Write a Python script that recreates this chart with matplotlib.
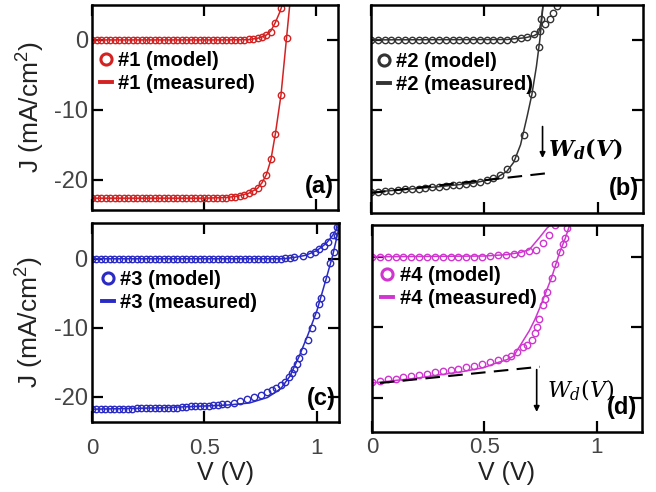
import matplotlib
matplotlib.use("Agg")
import matplotlib.pyplot as plt
from matplotlib.lines import Line2D

plt.rcParams["font.family"] = ["Liberation Sans", "DejaVu Sans"]
plt.rcParams["mathtext.fontset"] = "custom"
plt.rcParams["mathtext.rm"] = "Liberation Sans"
plt.rcParams["mathtext.bf"] = "Liberation Sans:bold"

# --- DATA ---
# panel (a), red
a_dark_model_v = [0.00, 0.02, 0.04, 0.06, 0.08, 0.10, 0.12, 0.14, 0.16, 0.18,
                  0.20, 0.22, 0.24, 0.26, 0.28, 0.30, 0.32, 0.34, 0.36, 0.38,
                  0.40, 0.42, 0.44, 0.46, 0.48, 0.50, 0.52, 0.54, 0.56, 0.58,
                  0.60, 0.62, 0.64, 0.66, 0.68, 0.70, 0.72, 0.74, 0.76, 0.78,
                  0.80, 0.82, 0.845]
a_dark_model_j = [0.0, 0.0, 0.0, 0.0, 0.0, 0.0, 0.0, 0.0, 0.0, 0.0,
                  0.0, 0.0, 0.0, 0.0, 0.0, 0.0, 0.0, 0.0, 0.0, 0.0,
                  0.0, 0.0, 0.0, 0.0, 0.0, 0.0, 0.0, 0.0, 0.0, 0.0,
                  0.0, 0.0, 0.0, 0.0, 0.05, 0.1, 0.15, 0.25, 0.4, 0.7,
                  1.2, 2.4, 4.5]
a_light_model_v = [0.00, 0.02, 0.04, 0.06, 0.08, 0.10, 0.12, 0.14, 0.16, 0.18,
                   0.20, 0.22, 0.24, 0.26, 0.28, 0.30, 0.32, 0.34, 0.36, 0.38,
                   0.40, 0.42, 0.44, 0.46, 0.48, 0.50, 0.52, 0.54, 0.56, 0.58,
                   0.60, 0.62, 0.64, 0.66, 0.68, 0.70, 0.72, 0.74, 0.76, 0.78,
                   0.80, 0.82, 0.845, 0.87]
a_light_model_j = [-22.6, -22.6, -22.6, -22.6, -22.6, -22.6, -22.6, -22.6, -22.6, -22.6,
                   -22.6, -22.6, -22.6, -22.6, -22.6, -22.6, -22.6, -22.6, -22.6, -22.6,
                   -22.6, -22.6, -22.6, -22.6, -22.6, -22.6, -22.6, -22.6, -22.6, -22.6,
                   -22.6, -22.5, -22.4, -22.3, -22.1, -21.9, -21.6, -21.2, -20.5, -19.3,
                   -17.0, -13.4, -7.9, 0.3]
a_dark_meas_v = [0.0, 0.60, 0.70, 0.75, 0.78, 0.80, 0.82, 0.84, 0.853]
a_dark_meas_j = [0.0, 0.0, 0.05, 0.3, 0.7, 1.3, 2.5, 4.0, 5.2]
a_light_meas_v = [0.0, 0.50, 0.60, 0.65, 0.70, 0.74, 0.76, 0.78, 0.80, 0.82, 0.845, 0.87, 0.885]
a_light_meas_j = [-22.6, -22.6, -22.5, -22.3, -21.9, -21.2, -20.4, -19.2, -17.1, -13.4, -7.9, 0.3, 5.2]

# panel (b), black
b_dark_model_v = [0.00, 0.03, 0.06, 0.09, 0.12, 0.15, 0.18, 0.21, 0.24, 0.27,
                  0.30, 0.33, 0.36, 0.39, 0.42, 0.45, 0.48, 0.51, 0.54, 0.57,
                  0.60, 0.63, 0.66, 0.69, 0.72, 0.745, 0.77, 0.79, 0.805, 0.82]
b_dark_model_j = [0.0, 0.0, 0.0, 0.0, 0.0, 0.0, 0.0, 0.0, 0.0, 0.0,
                  0.0, 0.0, 0.0, 0.0, 0.0, 0.0, 0.0, 0.0, 0.0, 0.0,
                  0.05, 0.1, 0.2, 0.4, 0.8, 1.3, 2.2, 3.0, 3.9, 4.9]
b_light_model_v = [0.00, 0.03, 0.06, 0.09, 0.12, 0.15, 0.18, 0.21, 0.24, 0.27,
                   0.30, 0.33, 0.36, 0.39, 0.42, 0.45, 0.48, 0.51, 0.54, 0.57,
                   0.60, 0.635, 0.675, 0.71, 0.74, 0.752]
b_light_model_j = [-21.7, -21.7, -21.6, -21.6, -21.5, -21.4, -21.3, -21.3, -21.2, -21.1,
                   -21.0, -20.9, -20.8, -20.7, -20.6, -20.5, -20.3, -20.1, -19.8, -19.4,
                   -18.4, -16.9, -13.6, -7.8, -1.0, 3.0]
b_dark_meas_v = [0.0, 0.60, 0.68, 0.72, 0.74, 0.75, 0.76]
b_dark_meas_j = [0.0, 0.05, 0.3, 0.6, 1.0, 2.5, 5.2]
b_light_meas_v = [0.0, 0.15, 0.30, 0.45, 0.55, 0.60, 0.63, 0.66, 0.69, 0.71, 0.73, 0.745, 0.76]
b_light_meas_j = [-21.8, -21.4, -21.0, -20.5, -19.8, -18.8, -17.5, -15.0, -10.8, -7.8, -3.8, 0.0, 5.2]
b_trend_v = [0.0, 0.77]
b_trend_j = [-21.9, -19.1]

# panel (c), blue
c_dark_model_v = [0.00, 0.02, 0.04, 0.06, 0.08, 0.10, 0.12, 0.14, 0.16, 0.18,
                  0.20, 0.22, 0.24, 0.26, 0.28, 0.30, 0.32, 0.34, 0.36, 0.38,
                  0.40, 0.42, 0.44, 0.46, 0.48, 0.50, 0.52, 0.54, 0.56, 0.58,
                  0.60, 0.62, 0.64, 0.66, 0.68, 0.70, 0.72, 0.74, 0.76, 0.78,
                  0.80, 0.82, 0.84, 0.86, 0.88, 0.90, 0.94, 0.97, 0.99, 1.01,
                  1.03, 1.05, 1.07, 1.09]
c_dark_model_j = [0.0, 0.0, 0.0, 0.0, 0.0, 0.0, 0.0, 0.0, 0.0, 0.0,
                  0.0, 0.0, 0.0, 0.0, 0.0, 0.0, 0.0, 0.0, 0.0, 0.0,
                  0.0, 0.0, 0.0, 0.0, 0.0, 0.0, 0.0, 0.0, 0.0, 0.0,
                  0.0, 0.0, 0.0, 0.0, 0.0, 0.0, 0.0, 0.0, 0.0, 0.0,
                  0.0, 0.0, 0.0, 0.05, 0.1, 0.2, 0.4, 0.7, 1.0, 1.4,
                  1.9, 2.5, 3.5, 4.6]
c_light_model_v = [0.00, 0.02, 0.04, 0.06, 0.08, 0.10, 0.12, 0.14, 0.16, 0.18,
                   0.20, 0.22, 0.24, 0.26, 0.28, 0.30, 0.32, 0.34, 0.36, 0.38,
                   0.40, 0.42, 0.44, 0.46, 0.48, 0.50, 0.52, 0.54, 0.56, 0.58,
                   0.60, 0.63, 0.66, 0.69, 0.72, 0.75, 0.78, 0.80, 0.82, 0.84,
                   0.86, 0.875, 0.89, 0.90, 0.91, 0.92, 0.94, 0.96, 0.98, 0.995,
                   1.01, 1.02, 1.04, 1.06, 1.075, 1.09, 1.10]
c_light_model_j = [-21.7, -21.7, -21.7, -21.7, -21.7, -21.7, -21.7, -21.7, -21.7, -21.7,
                   -21.6, -21.6, -21.6, -21.6, -21.6, -21.6, -21.6, -21.6, -21.6, -21.6,
                   -21.5, -21.5, -21.4, -21.4, -21.4, -21.3, -21.3, -21.2, -21.2, -21.1,
                   -21.0, -20.9, -20.6, -20.3, -20.0, -19.7, -19.3, -19.0, -18.7, -18.3,
                   -17.8, -17.2, -16.5, -16.0, -15.2, -14.4, -13.3, -11.7, -10.0, -8.2,
                   -6.6, -5.7, -3.0, -0.6, 1.0, 3.3, 4.6]
c_dark_meas_v = [0.0, 0.85, 0.90, 0.95, 1.00, 1.04, 1.07, 1.10]
c_dark_meas_j = [0.0, 0.0, 0.2, 0.5, 1.2, 2.2, 3.4, 5.0]
c_light_meas_v = [0.0, 0.30, 0.60, 0.70, 0.78, 0.84, 0.88, 0.92, 0.96, 1.00, 1.04, 1.07, 1.10]
c_light_meas_j = [-21.8, -21.6, -21.2, -20.9, -20.1, -18.8, -17.0, -14.2, -11.0, -7.5, -3.0, 0.5, 4.8]

# panel (d), magenta
d_dark_model_v = [0.000, 0.035, 0.070, 0.105, 0.140, 0.175, 0.210, 0.245, 0.280, 0.315,
                  0.350, 0.385, 0.420, 0.455, 0.490, 0.525, 0.560, 0.595, 0.630, 0.665,
                  0.700, 0.730, 0.760, 0.790, 0.813]
d_dark_model_j = [0.0, 0.0, 0.0, 0.0, 0.0, 0.0, 0.0, 0.0, 0.0, 0.0,
                  0.0, 0.0, 0.0, 0.0, 0.0, 0.1, 0.2, 0.3, 0.4, 0.5,
                  0.8, 1.0, 2.0, 3.1, 4.5]
d_light_model_v = [0.000, 0.035, 0.070, 0.105, 0.140, 0.175, 0.210, 0.245, 0.280, 0.315,
                   0.350, 0.385, 0.420, 0.455, 0.490, 0.525, 0.560, 0.595, 0.620, 0.645,
                   0.670, 0.690, 0.710, 0.725, 0.735, 0.745, 0.760, 0.770, 0.780, 0.800,
                   0.815, 0.835, 0.850, 0.860, 0.870]
d_light_model_j = [-17.7, -17.6, -17.4, -17.3, -17.1, -16.9, -16.8, -16.6, -16.4, -16.2,
                   -16.0, -15.9, -15.7, -15.5, -15.2, -14.9, -14.7, -14.4, -14.1, -13.5,
                   -12.8, -12.5, -11.8, -10.8, -10.0, -8.8, -6.8, -6.0, -5.0, -3.0,
                   -1.1, 0.7, 1.8, 2.7, 4.1]
d_dark_meas_v = [0.0, 0.50, 0.60, 0.66, 0.70, 0.745, 0.78, 0.80]
d_dark_meas_j = [0.0, 0.1, 0.3, 0.6, 1.0, 2.7, 4.1, 4.6]
d_light_meas_v = [0.0, 0.20, 0.40, 0.50, 0.55, 0.60, 0.63, 0.667, 0.70, 0.725, 0.75, 0.778, 0.80, 0.835, 0.86, 0.88]
d_light_meas_j = [-17.9, -17.2, -16.3, -15.7, -15.1, -14.6, -14.1, -12.2, -10.5, -8.9, -7.0, -4.7, -2.9, 0.6, 2.6, 4.5]
d_trend_v = [0.035, 0.747]
d_trend_j = [-17.9, -15.6]

x_ticks = [0, 0.5, 1]
x_tick_labels = ["0", "0.5", "1"]
y_ticks = [-20, -10, 0]
y_tick_labels = ["-20", "-10", "0"]

TICK_COLOR = "#444444"


def style_axes(ax, xmax, ylim, show_x, show_y, xlabel_xy=(0.5, -0.15), xpad=12):
    ax.set_xlim(0, xmax)
    ax.set_ylim(*ylim)
    ax.set_xticks(x_ticks)
    ax.set_yticks(y_ticks)
    ax.tick_params(direction="in", length=8, width=1.6, top=True, right=True,
                   labelsize=17, labelcolor=TICK_COLOR, pad=3)
    ax.tick_params(axis="x", pad=xpad, labelsize=16)
    if show_x:
        ax.set_xticklabels(x_tick_labels)
        ax.set_xlabel("V (V)", fontsize=18, color="#222222")
        ax.xaxis.set_label_coords(*xlabel_xy)
    else:
        ax.set_xticklabels([])
    if show_y:
        ax.set_yticklabels(y_tick_labels)
        ax.set_ylabel(r"J (mA/cm$^{\mathrm{2}}$)", fontsize=19, color="#222222")
        ax.yaxis.set_label_coords(-0.19, 0.5)
    else:
        ax.set_yticklabels([])
    for sp in ax.spines.values():
        sp.set_linewidth(1.8)


def draw_panel(ax, color, num, dark_m, light_m, dark_l, light_l, leg_xy):
    mk = dict(ls="none", marker="o", ms=4.6, mfc="none", mec=color, mew=1.0)
    ax.plot(*dark_l, color=color, lw=1.1)
    ax.plot(*light_l, color=color, lw=1.1)
    ax.plot(*dark_m, **mk)
    ax.plot(*light_m, **mk)
    handles = [
        Line2D([], [], ls="none", marker="o", ms=8, mfc="none", mec=color, mew=2.2),
        Line2D([], [], color=color, lw=2.8),
    ]
    ax.legend(handles, [f"#{num} (model)", f"#{num} (measured)"],
              loc="upper left", bbox_to_anchor=leg_xy, frameon=False,
              borderpad=0, borderaxespad=0, handlelength=0.6,
              handletextpad=0.3, labelspacing=0.2,
              prop=dict(family="Liberation Sans", weight="bold", size=14.5))


fig = plt.figure(figsize=(6.56, 4.92), dpi=100)
ax_a = fig.add_axes([0.141, 0.573, 0.374, 0.417])
ax_b = fig.add_axes([0.5655, 0.568, 0.4146, 0.422])
ax_c = fig.add_axes([0.140, 0.143, 0.3775, 0.404])
ax_d = fig.add_axes([0.567, 0.1226, 0.4111, 0.4201])

red, black, blue, magenta = "#d42222", "#333333", "#2a2ac4", "#d035d0"

draw_panel(ax_a, red, 1, (a_dark_model_v, a_dark_model_j), (a_light_model_v, a_light_model_j),
           (a_dark_meas_v, a_dark_meas_j), (a_light_meas_v, a_light_meas_j), (0.03, 0.775))
draw_panel(ax_b, black, 2, (b_dark_model_v, b_dark_model_j), (b_light_model_v, b_light_model_j),
           (b_dark_meas_v, b_dark_meas_j), (b_light_meas_v, b_light_meas_j), (0.025, 0.775))
draw_panel(ax_c, blue, 3, (c_dark_model_v, c_dark_model_j), (c_light_model_v, c_light_model_j),
           (c_dark_meas_v, c_dark_meas_j), (c_light_meas_v, c_light_meas_j), (0.04, 0.765))
draw_panel(ax_d, magenta, 4, (d_dark_model_v, d_dark_model_j), (d_light_model_v, d_light_model_j),
           (d_dark_meas_v, d_dark_meas_j), (d_light_meas_v, d_light_meas_j), (0.035, 0.80))

style_axes(ax_a, 1.1, (-24.3, 5.0), False, True)
style_axes(ax_b, 1.2, (-24.7, 5.0), False, False)
style_axes(ax_c, 1.1, (-23.6, 5.2), True, True, xlabel_xy=(0.54, -0.197), xpad=12)
style_axes(ax_d, 1.2, (-24.8, 4.5), True, False, xlabel_xy=(0.5, -0.142), xpad=4)

# W_d(V) trend lines and arrows
ax_b.plot(b_trend_v, b_trend_j, color="black", lw=1.5, dashes=(7, 4))
ax_b.annotate("", xy=(0.757, -16.9), xytext=(0.757, -12.4),
              arrowprops=dict(arrowstyle="-|>", color="black", lw=1.2,
                              mutation_scale=8, shrinkA=0, shrinkB=0))
ax_b.text(0.78, -15.7, r"$\mathbfit{W}_{\mathbfit{d}}\mathbf{(}\mathbfit{V}\mathbf{)}$",
          fontsize=16, va="center", math_fontfamily="dejavuserif")

ax_d.plot(d_trend_v, d_trend_j, color="black", lw=1.5, dashes=(7, 4))
ax_d.annotate("", xy=(0.733, -22.0), xytext=(0.733, -16.0),
              arrowprops=dict(arrowstyle="-|>", color="black", lw=1.2,
                              mutation_scale=8, shrinkA=0, shrinkB=0))
ax_d.text(0.78, -18.9, r"$W_d(V)$", fontsize=16, va="center",
          math_fontfamily="dejavuserif")

# panel letters
for ax, lab in [(ax_a, "(a)"), (ax_b, "(b)"), (ax_c, "(c)"), (ax_d, "(d)")]:
    ax.text(0.985, 0.06, lab, transform=ax.transAxes, ha="right", va="bottom",
            fontsize=17, fontweight="bold")

fig.savefig("out.png", dpi=100)
